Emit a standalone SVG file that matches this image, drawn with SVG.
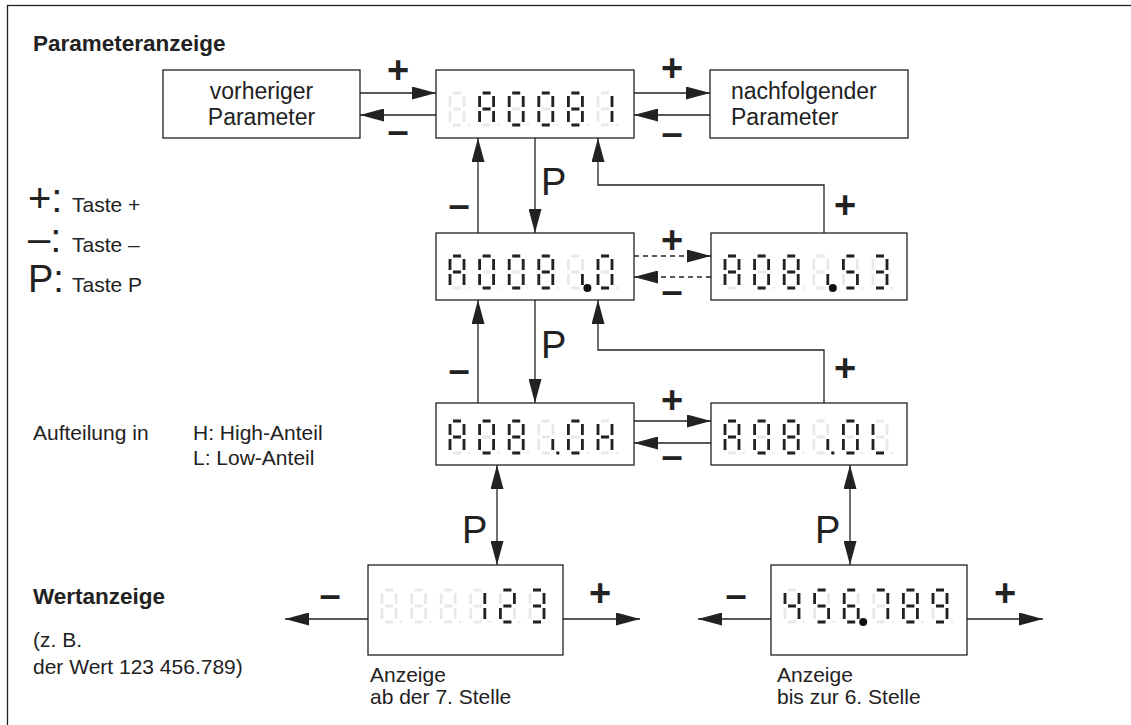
<svg xmlns="http://www.w3.org/2000/svg" xmlns:xlink="http://www.w3.org/1999/xlink" width="1131" height="725" viewBox="0 0 1131 725">
<style>
text{font-family:"Liberation Sans",Arial,sans-serif;fill:#222}
.t{font-size:21px}
.bt{font-size:23px}
.h{font-size:22.5px;font-weight:bold}
.pm{font-size:38px;font-weight:bold;text-anchor:middle}
.big{font-size:40px}
.bp{font-size:38px}
.box{fill:#fff;stroke:#222;stroke-width:1.3}
.ln{fill:none;stroke:#222;stroke-width:1.3}
.dash{stroke-dasharray:5 4}
.on{fill:none;stroke:#222;stroke-width:2.8}
.off{fill:none;stroke:#e9e9e9;stroke-width:2.8}
</style>
<defs>
<marker id="ah" viewBox="0 0 24 13" refX="24" refY="6.5" markerWidth="24" markerHeight="13" markerUnits="userSpaceOnUse" orient="auto-start-reverse"><path d="M0,0 L24,6.5 L0,13 z" fill="#222"/></marker>
<g id="off" class="off"><path d="M3 0H11M14 3V14M14 18V29M3 32H11M0 18V29M0 3V14M3 16H11"/><circle cx="19" cy="32" r="1.3" fill="#e9e9e9" stroke="none"/></g>
<g id="d0"><use href="#off"/><path class="on" d="M3 0H11M14 3V14M14 18V29M3 32H11M0 18V29M0 3V14"/></g>
<g id="d1"><use href="#off"/><path class="on" d="M14 3V14M14 18V29"/></g>
<g id="d2"><use href="#off"/><path class="on" d="M3 0H11M14 3V14M3 16H11M0 18V29M3 32H11"/></g>
<g id="d3"><use href="#off"/><path class="on" d="M3 0H11M14 3V14M3 16H11M14 18V29M3 32H11"/></g>
<g id="d4"><use href="#off"/><path class="on" d="M0 3V14M3 16H11M14 3V14M14 18V29"/></g>
<g id="d5"><use href="#off"/><path class="on" d="M3 0H11M0 3V14M3 16H11M14 18V29M3 32H11"/></g>
<g id="d6"><use href="#off"/><path class="on" d="M3 0H11M0 3V14M3 16H11M0 18V29M14 18V29M3 32H11"/></g>
<g id="d7"><use href="#off"/><path class="on" d="M3 0H11M14 3V14M14 18V29"/></g>
<g id="d8"><use href="#off"/><path class="on" d="M3 0H11M14 3V14M14 18V29M3 32H11M0 18V29M0 3V14M3 16H11"/></g>
<g id="d9"><use href="#off"/><path class="on" d="M3 0H11M14 3V14M14 18V29M3 32H11M0 3V14M3 16H11"/></g>
<g id="dA"><use href="#off"/><path class="on" d="M3 0H11M14 3V14M14 18V29M0 18V29M0 3V14M3 16H11"/></g>
<g id="dH"><use href="#off"/><path class="on" d="M14 3V14M14 18V29M0 18V29M0 3V14M3 16H11"/></g>
<g id="dL"><use href="#off"/><path class="on" d="M3 32H11M0 18V29M0 3V14"/></g>
<g id="dc"><use href="#off"/><path class="on" d="M14 18V29"/></g>
<circle id="dpbig" cx="19" cy="32" r="4" fill="#111"/>
<circle id="dpsm" cx="19" cy="32" r="1.8" fill="#222"/>
</defs>

<rect x="7.5" y="5.5" width="1140" height="740" fill="none" stroke="#222" stroke-width="1.3"/>

<text class="h" x="33" y="51">Parameteranzeige</text>

<g id="legend">
<text x="28" y="212"><tspan class="big">+:</tspan></text><text class="t" x="72" y="212">Taste +</text>
<text x="28" y="252"><tspan class="big">–:</tspan></text><text class="t" x="72" y="252">Taste –</text>
<text x="28" y="292"><tspan class="bp">P:</tspan></text><text class="t" x="72" y="292">Taste P</text>
</g>

<g id="split">
<text class="t" x="33" y="440">Aufteilung in</text>
<text class="t" x="193" y="440">H: High-Anteil</text>
<text class="t" x="193" y="465">L: Low-Anteil</text>
</g>

<g id="value-label">
<text class="h" x="33" y="604">Wertanzeige</text>
<text class="t" x="33" y="647">(z. B.</text>
<text class="t" x="33" y="674">der Wert 123 456.789)</text>
</g>

<g id="prev-param">
<rect class="box" x="163" y="70" width="197" height="68"/>
<text class="bt" x="261.5" y="99" text-anchor="middle">vorheriger</text>
<text class="bt" x="261.5" y="125" text-anchor="middle">Parameter</text>
</g>

<g id="next-param">
<rect class="box" x="710" y="70" width="198" height="68"/>
<text class="bt" x="731" y="99">nachfolgender</text>
<text class="bt" x="731" y="125">Parameter</text>
</g>

<g id="disp-top">
<rect class="box" x="436" y="70" width="198" height="68"/>
<g transform="translate(0,93)">
<use href="#off" x="450"/><use href="#dA" x="479.6"/><use href="#d0" x="509.2"/><use href="#d0" x="538.8"/><use href="#d8" x="568.4"/><use href="#d1" x="598"/>
</g>
</g>

<g id="disp-mid-left">
<rect class="box" x="436" y="233" width="198" height="67"/>
<g transform="translate(0,256)">
<use href="#dA" x="450"/><use href="#d0" x="479.6"/><use href="#d0" x="509.2"/><use href="#d8" x="538.8"/><use href="#dc" x="568.4"/><use href="#dpbig" x="568.4"/><use href="#d0" x="598"/>
</g>
</g>

<g id="disp-mid-right">
<rect class="box" x="711" y="233" width="196" height="67"/>
<g transform="translate(0,256)">
<use href="#dA" x="725"/><use href="#d0" x="754.6"/><use href="#d8" x="784.2"/><use href="#dc" x="813.8"/><use href="#dpbig" x="813.8"/><use href="#d5" x="843.4"/><use href="#d3" x="873"/>
</g>
</g>

<g id="disp-high">
<rect class="box" x="436" y="403" width="198" height="62"/>
<g transform="translate(0,421)">
<use href="#dA" x="450"/><use href="#d0" x="479.6"/><use href="#d8" x="509.2"/><use href="#dc" x="538.8"/><use href="#dpsm" x="538.8"/><use href="#d0" x="568.4"/><use href="#dH" x="598"/>
</g>
</g>

<g id="disp-low">
<rect class="box" x="711" y="403" width="196" height="62"/>
<g transform="translate(0,421)">
<use href="#dA" x="725"/><use href="#d0" x="754.6"/><use href="#d8" x="784.2"/><use href="#dc" x="813.8"/><use href="#dpsm" x="813.8"/><use href="#d0" x="843.4"/><use href="#dL" x="873"/>
</g>
</g>

<g id="disp-value-high">
<rect class="box" x="368" y="565" width="195" height="90"/>
<g transform="translate(0,590)">
<use href="#off" x="382"/><use href="#off" x="411.6"/><use href="#off" x="441.2"/><use href="#d1" x="470.8"/><use href="#d2" x="500.4"/><use href="#d3" x="530"/>
</g>
<text class="t" x="370" y="682">Anzeige</text>
<text class="t" x="370" y="704">ab der 7. Stelle</text>
</g>

<g id="disp-value-low">
<rect class="box" x="771" y="565" width="196" height="90"/>
<g transform="translate(0,590)">
<use href="#d4" x="785"/><use href="#d5" x="814.6"/><use href="#d6" x="844.2"/><use href="#dpbig" x="844.2"/><use href="#d7" x="873.8"/><use href="#d8" x="903.4"/><use href="#d9" x="933"/>
</g>
<text class="t" x="777" y="682">Anzeige</text>
<text class="t" x="777" y="704">bis zur 6. Stelle</text>
</g>

<g id="connectors">
<path class="ln" d="M360 93H436" marker-end="url(#ah)"/>
<path class="ln" d="M436 115H360" marker-end="url(#ah)"/>
<path class="ln" d="M634 93H710" marker-end="url(#ah)"/>
<path class="ln" d="M710 115H634" marker-end="url(#ah)"/>
<path class="ln dash" d="M634 256H711" marker-end="url(#ah)"/>
<path class="ln dash" d="M711 277H634" marker-end="url(#ah)"/>
<path class="ln" d="M634 421H711" marker-end="url(#ah)"/>
<path class="ln" d="M711 443H634" marker-end="url(#ah)"/>
<path class="ln" d="M478 233V138" marker-end="url(#ah)"/>
<path class="ln" d="M535 138V233" marker-end="url(#ah)"/>
<path class="ln" d="M824 233V185H598V138" marker-end="url(#ah)"/>
<path class="ln" d="M478 403V300" marker-end="url(#ah)"/>
<path class="ln" d="M535 300V403" marker-end="url(#ah)"/>
<path class="ln" d="M824 403V350H598V300" marker-end="url(#ah)"/>
<path class="ln" d="M497 465V565" marker-start="url(#ah)" marker-end="url(#ah)"/>
<path class="ln" d="M850 465V565" marker-start="url(#ah)" marker-end="url(#ah)"/>
<path class="ln" d="M368 619H285" marker-end="url(#ah)"/>
<path class="ln" d="M563 619H640" marker-end="url(#ah)"/>
<path class="ln" d="M771 619H698" marker-end="url(#ah)"/>
<path class="ln" d="M967 619H1043" marker-end="url(#ah)"/>
<g id="connector-labels">
<text class="pm" x="398" y="83">+</text>
<text class="pm" x="398" y="144">–</text>
<text class="pm" x="672" y="81">+</text>
<text class="pm" x="672" y="146">–</text>
<text class="pm" x="672" y="253">+</text>
<text class="pm" x="672" y="304">–</text>
<text class="pm" x="672" y="413">+</text>
<text class="pm" x="672" y="469">–</text>
<text class="pm" x="459" y="218">–</text>
<text class="pm" x="845" y="218">+</text>
<text class="pm" x="459" y="383">–</text>
<text class="pm" x="845" y="381">+</text>
<text class="pm" x="330" y="608">–</text>
<text class="pm" x="600" y="606">+</text>
<text class="pm" x="736" y="608">–</text>
<text class="pm" x="1005" y="606">+</text>
<text class="bp" x="541" y="195">P</text>
<text class="bp" x="541" y="358">P</text>
<text class="bp" x="462" y="543">P</text>
<text class="bp" x="815" y="543">P</text>
</g>
</g>
</svg>
